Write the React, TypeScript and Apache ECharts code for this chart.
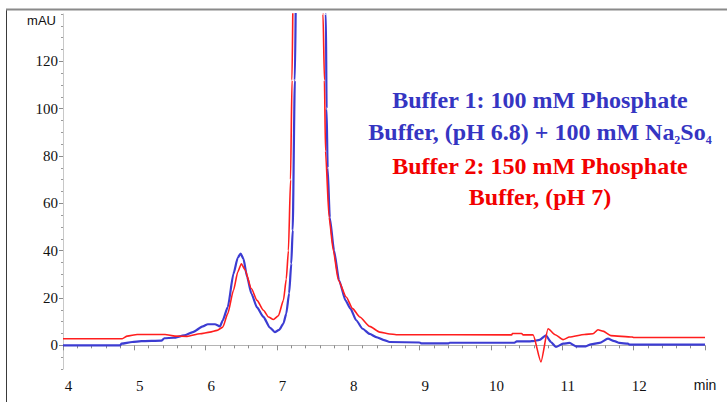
import React, { useEffect, useRef } from "react";
import * as echarts from "echarts";

// Retention time (min) and absorbance (mAU) for the two buffer runs
const blueTime = [
  4.0, 4.8, 4.82, 4.97, 5.1, 5.38, 5.42, 5.55, 5.7, 5.82, 5.96, 6.03, 6.13, 6.2, 6.24, 6.31, 6.39, 6.45,
  6.49, 6.53, 6.58, 6.64, 6.72, 6.81, 6.9, 6.97, 7.03, 7.09, 7.13, 7.17, 7.2, 7.22, 7.25, 7.27, 7.45,
  7.665, 7.685, 7.695, 7.71, 7.74, 7.8, 7.87, 7.96, 8.03, 8.11, 8.2, 8.3, 8.39, 8.5, 8.58, 9.0, 9.02,
  9.4, 9.42, 10.33, 10.36, 10.55, 10.59, 10.68, 10.77, 10.84, 10.91, 11.01, 11.1, 11.19, 11.33, 11.4,
  11.52, 11.64, 11.73, 11.8, 11.92, 11.94, 13.0,
];
const blueAbs = [
  0, 0, 0.7, 1.4, 1.8, 2.0, 3.0, 3.2, 4.2, 5.6, 8.0, 8.9, 8.9, 8.0, 10.6, 16.2, 30.3, 37,
  38.8, 36.5, 29, 21.9, 16, 12, 7.5, 5.6, 6.5, 9.2, 13.4, 22, 34.5, 48.6, 112, 160, 300,
  200, 140, 100, 75, 54, 40, 27.5, 19, 15.5, 10.6, 7, 4.8, 3.5, 2.2, 1.4, 1.2, 0.8,
  0.8, 1.1, 1.1, 1.7, 1.7, 1.8, 2.3, 4.2, 1.4, -0.7, 0.7, 1.0, -0.4, -0.4, 0.4,
  1.0, 2.8, 1.8, 1.0, 0.7, 0.3, 0.3,
];

const redTime = [
  4.0, 4.83, 4.9, 5.04, 5.43, 5.57, 5.74, 5.92, 6.06, 6.16, 6.24, 6.31, 6.39, 6.45, 6.5, 6.55, 6.64,
  6.72, 6.81, 6.88, 6.95, 7.02, 7.09, 7.13, 7.16, 7.19, 7.21, 7.23, 7.43, 7.62, 7.645, 7.665, 7.68,
  7.73, 7.79, 7.86, 7.97, 8.06, 8.16, 8.3, 8.44, 8.58, 8.67, 10.29, 10.3, 10.43, 10.45, 10.59, 10.7,
  10.8, 10.9, 11.01, 11.1, 11.31, 11.43, 11.5, 11.57, 11.68, 11.98, 12.0, 13.0,
];
const redAbs = [
  2.8, 2.8, 3.9, 4.6, 4.6, 3.9, 3.8, 4.9, 5.6, 6.3, 7.7, 13.4, 23.3, 31, 34.5, 32, 24,
  19, 14.8, 12, 10.9, 12.5, 19, 28, 40, 70, 112, 160, 300, 200, 140, 112, 82,
  54, 40, 27.5, 20.4, 15.5, 12, 8, 5.6, 4.8, 4.5, 4.4, 5.0, 5.0, 4.4, 4.4, -7.0,
  7.0, 4.5, 2.4, 3.5, 4.6, 4.9, 6.6, 6.0, 4.1, 3.5, 3.3, 3.3,
];

const yLabelValues = [0, 20, 40, 60, 80, 100, 120];

const BLUE_LINE = "#3c3cd2";
const RED_LINE = "#ff1e1e";
const BLUE_TEXT = "#3535c2";
const RED_TEXT = "#f20000";
const SERIF = "'Liberation Serif', 'Times New Roman', serif";
const SANS = "'Liberation Sans', Arial, sans-serif";

const pairs = (t: number[], v: number[]) => t.map((x, i) => [x, v[i]]);

export default function App() {
  const ref = useRef<HTMLDivElement>(null);

  useEffect(() => {
    if (!ref.current) return;
    const chart = echarts.init(ref.current, null, { renderer: "svg" });

    const legendFont = {
      fontFamily: SERIF,
      fontWeight: "bold" as const,
      fontSize: 24,
    };

    chart.setOption({
      animation: false,
      backgroundColor: "#ffffff",
      grid: { left: 63, right: 22, top: 14, bottom: 33 },
      xAxis: {
        type: "value",
        min: 4,
        max: 13,
        interval: 1,
        axisLine: { show: true, lineStyle: { color: "#b4b4b4", width: 1 } },
        axisTick: { show: true, length: 5, lineStyle: { color: "#8c8c8c" } },
        minorTick: { show: true, splitNumber: 5, length: 3, lineStyle: { color: "#8c8c8c" } },
        splitLine: { show: false },
        axisLabel: {
          margin: 9,
          color: "#111",
          fontFamily: SERIF,
          fontSize: 15,
          padding: [0, 0, 0, 11],
          showMinLabel: true,
          showMaxLabel: true,
          formatter: (v: number) => (v === 13 ? "{u|min}" : String(v)),
          rich: {
            u: { fontFamily: SANS, fontSize: 14, color: "#111", padding: [0, 11, 0, 0] },
          },
        },
      },
      yAxis: [
        {
          type: "value",
          min: -10,
          max: 140,
          interval: 5,
          axisLine: { show: true, lineStyle: { color: "#c8c8c8", width: 1 } },
          axisTick: { show: true, length: 2, lineStyle: { color: "#9a9a9a" } },
          axisLabel: { show: false },
          splitLine: { show: false },
        },
        {
          type: "value",
          min: -10,
          max: 140,
          interval: 5,
          position: "left",
          axisLine: { show: false },
          axisTick: {
            show: true,
            length: 4,
            customValues: yLabelValues,
            lineStyle: { color: "#8c8c8c" },
          },
          axisLabel: {
            show: true,
            margin: 5,
            customValues: yLabelValues,
            color: "#111",
            fontFamily: SERIF,
            fontSize: 15,
          },
          splitLine: { show: false },
        },
      ],
      series: [
        {
          name: "Buffer 1",
          type: "line",
          yAxisIndex: 0,
          data: pairs(blueTime, blueAbs),
          showSymbol: false,
          symbol: "none",
          smooth: 0.2,
          smoothMonotone: "x",
          lineStyle: { color: BLUE_LINE, width: 2.2 },
          z: 2,
        },
        {
          name: "Buffer 2",
          type: "line",
          yAxisIndex: 0,
          data: pairs(redTime, redAbs),
          showSymbol: false,
          symbol: "none",
          smooth: 0.2,
          smoothMonotone: "x",
          lineStyle: { color: RED_LINE, width: 1.6 },
          z: 3,
        },
      ],
      graphic: [
        {
          type: "line",
          shape: { x1: 6.5, y1: 9, x2: 6.5, y2: 402 },
          style: { stroke: "#3a3a3a", lineWidth: 1 },
          silent: true,
        },
        {
          type: "line",
          shape: { x1: 6, y1: 9.5, x2: 727, y2: 9.5 },
          style: { stroke: "#8a8a8a", lineWidth: 2 },
          silent: true,
          z: 10,
        },
        {
          type: "text",
          x: 56,
          y: 20,
          style: {
            text: "mAU",
            fill: "#111",
            font: `13px ${SANS}`,
            align: "right",
            verticalAlign: "middle",
          },
        },
        {
          type: "text",
          x: 540,
          y: 100,
          style: {
            text: "Buffer 1: 100 mM Phosphate",
            fill: BLUE_TEXT,
            ...legendFont,
            align: "center",
            verticalAlign: "middle",
          },
        },
        {
          type: "text",
          x: 540,
          y: 132,
          style: {
            text: "Buffer, (pH 6.8) + 100 mM Na{s|2}So{s|4}",
            fill: BLUE_TEXT,
            ...legendFont,
            lineHeight: 28,
            align: "center",
            verticalAlign: "middle",
            rich: {
              s: {
                fill: BLUE_TEXT,
                fontFamily: SERIF,
                fontWeight: "bold",
                fontSize: 12,
                lineHeight: 12,
                verticalAlign: "bottom",
              },
            },
          },
        },
        {
          type: "text",
          x: 540,
          y: 166,
          style: {
            text: "Buffer 2: 150 mM Phosphate",
            fill: RED_TEXT,
            ...legendFont,
            align: "center",
            verticalAlign: "middle",
          },
        },
        {
          type: "text",
          x: 540,
          y: 197,
          style: {
            text: "Buffer, (pH 7)",
            fill: RED_TEXT,
            ...legendFont,
            align: "center",
            verticalAlign: "middle",
          },
        },
      ],
    });

    return () => chart.dispose();
  }, []);

  return (
    <div
      ref={ref}
      style={{ position: "fixed", left: 0, top: 0, width: 727, height: 402, background: "#fff" }}
    />
  );
}
